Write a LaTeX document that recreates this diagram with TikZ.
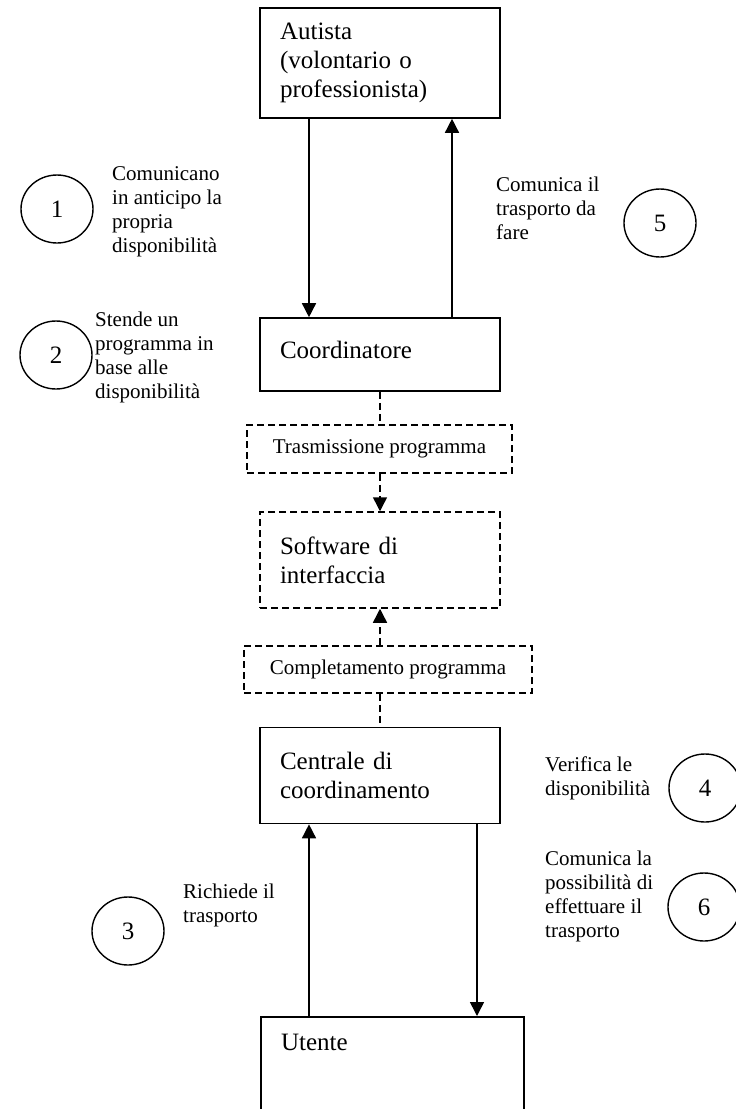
\documentclass[tikz,border=0pt]{standalone}
\usepackage{fontspec}
\setmainfont{Liberation Serif}
\usepackage{tikz}
\usetikzlibrary{arrows.meta,shapes.geometric}
\newcommand{\smalltxt}{\fontsize{21}{24}\selectfont}

\begin{document}
\begin{tikzpicture}[
x=1pt, y=-1pt,
font=\fontsize{25}{29}\selectfont,
box/.style={draw, line width=1.6pt, align=left, inner xsep=20pt, inner ysep=4pt,
  text width=200pt, minimum height=73pt},
dashbox/.style={draw, line width=1.5pt, dash pattern=on 7pt off 4pt, align=center,
  font=\smalltxt},
num/.style={draw, ellipse, line width=1.4pt, minimum width=72pt, minimum height=68pt,
  font=\fontsize{25}{29}\selectfont},
note/.style={align=left, anchor=north west, inner sep=0pt, font=\smalltxt},
arrow/.style={-{Triangle[length=14pt, width=14pt]}, line width=1.5pt},
dasharrow/.style={arrow, dash pattern=on 7pt off 4pt},
dashline/.style={line width=1.5pt, dash pattern=on 7pt off 4pt}
]
\useasboundingbox (0,0) rectangle (736,1109);

\node[box, minimum height=110pt] (autista) at (380,63) {Autista\\(volontario o\\professionista)};
\node[box, text depth=10pt] (coord) at (380,354.5) {Coordinatore};
\node[dashbox, minimum width=265pt, minimum height=48pt] (tras) at (379.5,449) {Trasmissione programma};
\node[box, minimum height=96pt, dash pattern=on 7pt off 4pt, line width=1.5pt] (soft) at (380,560) {Software di\\interfaccia};
\node[dashbox, minimum width=288pt, minimum height=47pt] (compl) at (388,669.5) {Completamento programma};
\node[box, minimum height=96pt] (centr) at (380,775.5) {Centrale di\\coordinamento};
\node[box, anchor=north, text width=223pt, inner ysep=17pt, text depth=80pt] (utente) at (392.5,1016) {Utente};

% steps
\node[num] (n1) at (57,209) {1};
\node[num] (n2) at (56,355) {2};
\node[num] (n5) at (660,223) {5};
\node[num] (n4) at (705,788) {4};
\node[num] (n6) at (704,907) {6};
\node[num] (n3) at (128,931) {3};

\node[note] (t1) at (112,166) {Comunicano\\in anticipo la\\propria\\disponibilità};
\node[note] (t2) at (95,312) {Stende un\\programma in\\base alle\\disponibilità};
\node[note] (t5) at (496,177) {Comunica il\\trasporto da\\fare};
\node[note] (t4) at (545,757) {Verifica le\\disponibilità};
\node[note] (t6) at (545,851) {Comunica la\\possibilità di\\effettuare il\\trasporto};
\node[note] (t3) at (183,884) {Richiede il\\trasporto};

\draw[arrow] ([xshift=-71pt]autista.south) -- ([xshift=-71pt]coord.north);
\draw[arrow] ([xshift=72pt]coord.north) -- ([xshift=72pt]autista.south);
\draw[dashline] (coord.south) -- (coord.south |- tras.north);
\draw[dasharrow] (tras.south -| soft.north) -- (soft.north);
\draw[dasharrow] (soft.south |- compl.north) -- (soft.south);
\draw[dashline] (centr.north |- compl.south) -- (centr.north);
\draw[arrow] ([xshift=-71pt]centr.south |- utente.north) -- ([xshift=-71pt]centr.south);
\draw[arrow] ([xshift=97pt]centr.south) -- ([xshift=97pt]centr.south |- utente.north);
\end{tikzpicture}
\end{document}
